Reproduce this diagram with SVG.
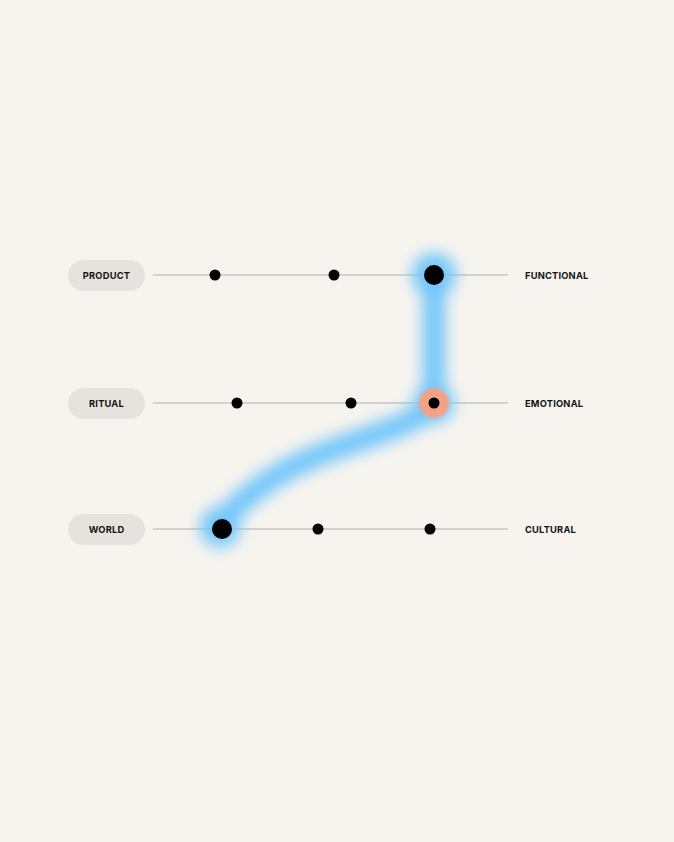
<svg xmlns="http://www.w3.org/2000/svg" width="674" height="842" viewBox="0 0 674 842">
<defs>
<style>
.pill{fill:#e6e3df}
.lab{font-family:Inter,"Liberation Sans",sans-serif;font-weight:700;font-size:9.3px;fill:#141414;letter-spacing:0.2px}
.axis{stroke:#b3b1ad;stroke-width:1}
.dot{fill:#000}
</style>
<filter id="blur" x="-50%" y="-50%" width="200%" height="200%"><feGaussianBlur stdDeviation="8"/></filter>
<filter id="soft" x="-50%" y="-50%" width="200%" height="200%"><feGaussianBlur stdDeviation="1.5"/></filter>
</defs>
<rect width="674" height="842" fill="#f7f4ef"/>
<g id="axes">
<line class="axis" x1="153" y1="275" x2="508" y2="275"/>
<line class="axis" x1="153" y1="403" x2="508" y2="403"/>
<line class="axis" x1="153" y1="529" x2="508" y2="529"/>
</g>
<g id="connectors">
<g filter="url(#blur)" fill="none" stroke="#6ec5fb" stroke-linecap="round">
<path d="M434,275 L434,400 C425,430 330,440 270,480 C245,497 226,512 222,529" stroke-width="22"/>
<circle cx="434" cy="275" r="22" fill="#6ec5fb" stroke="none"/>
<circle cx="434" cy="403" r="20" fill="#6ec5fb" stroke="none"/>
<circle cx="220" cy="527" r="20" fill="#6ec5fb" stroke="none"/>
</g>
</g>
<g id="node-product">
<rect class="pill" x="68" y="260" width="77" height="31" rx="15.5"/>
<text class="lab" x="106.5" y="278.5" text-anchor="middle">PRODUCT</text>
</g>
<g id="node-ritual">
<rect class="pill" x="68" y="388" width="77" height="31" rx="15.5"/>
<text class="lab" x="106.5" y="406.5" text-anchor="middle">RITUAL</text>
</g>
<g id="node-world">
<rect class="pill" x="68" y="514" width="77" height="31" rx="15.5"/>
<text class="lab" x="106.5" y="532.5" text-anchor="middle">WORLD</text>
</g>
<g id="node-functional"><text class="lab" x="525" y="278.5">FUNCTIONAL</text></g>
<g id="node-emotional"><text class="lab" x="525" y="406.5">EMOTIONAL</text></g>
<g id="node-cultural"><text class="lab" x="525" y="532.5">CULTURAL</text></g>
<g id="dots-product">
<circle class="dot" cx="215" cy="275" r="5.5"/>
<circle class="dot" cx="334" cy="275" r="5.5"/>
<circle class="dot" cx="434" cy="275" r="10"/>
</g>
<g id="dots-ritual">
<circle class="dot" cx="237" cy="403" r="5.5"/>
<circle class="dot" cx="351" cy="403" r="5.5"/>
<circle cx="434" cy="403" r="15" fill="#f4a184" filter="url(#soft)"/>
<circle class="dot" cx="434" cy="403" r="5.5"/>
</g>
<g id="dots-world">
<circle class="dot" cx="222" cy="529" r="10"/>
<circle class="dot" cx="318" cy="529" r="5.5"/>
<circle class="dot" cx="430" cy="529" r="5.5"/>
</g>
</svg>
